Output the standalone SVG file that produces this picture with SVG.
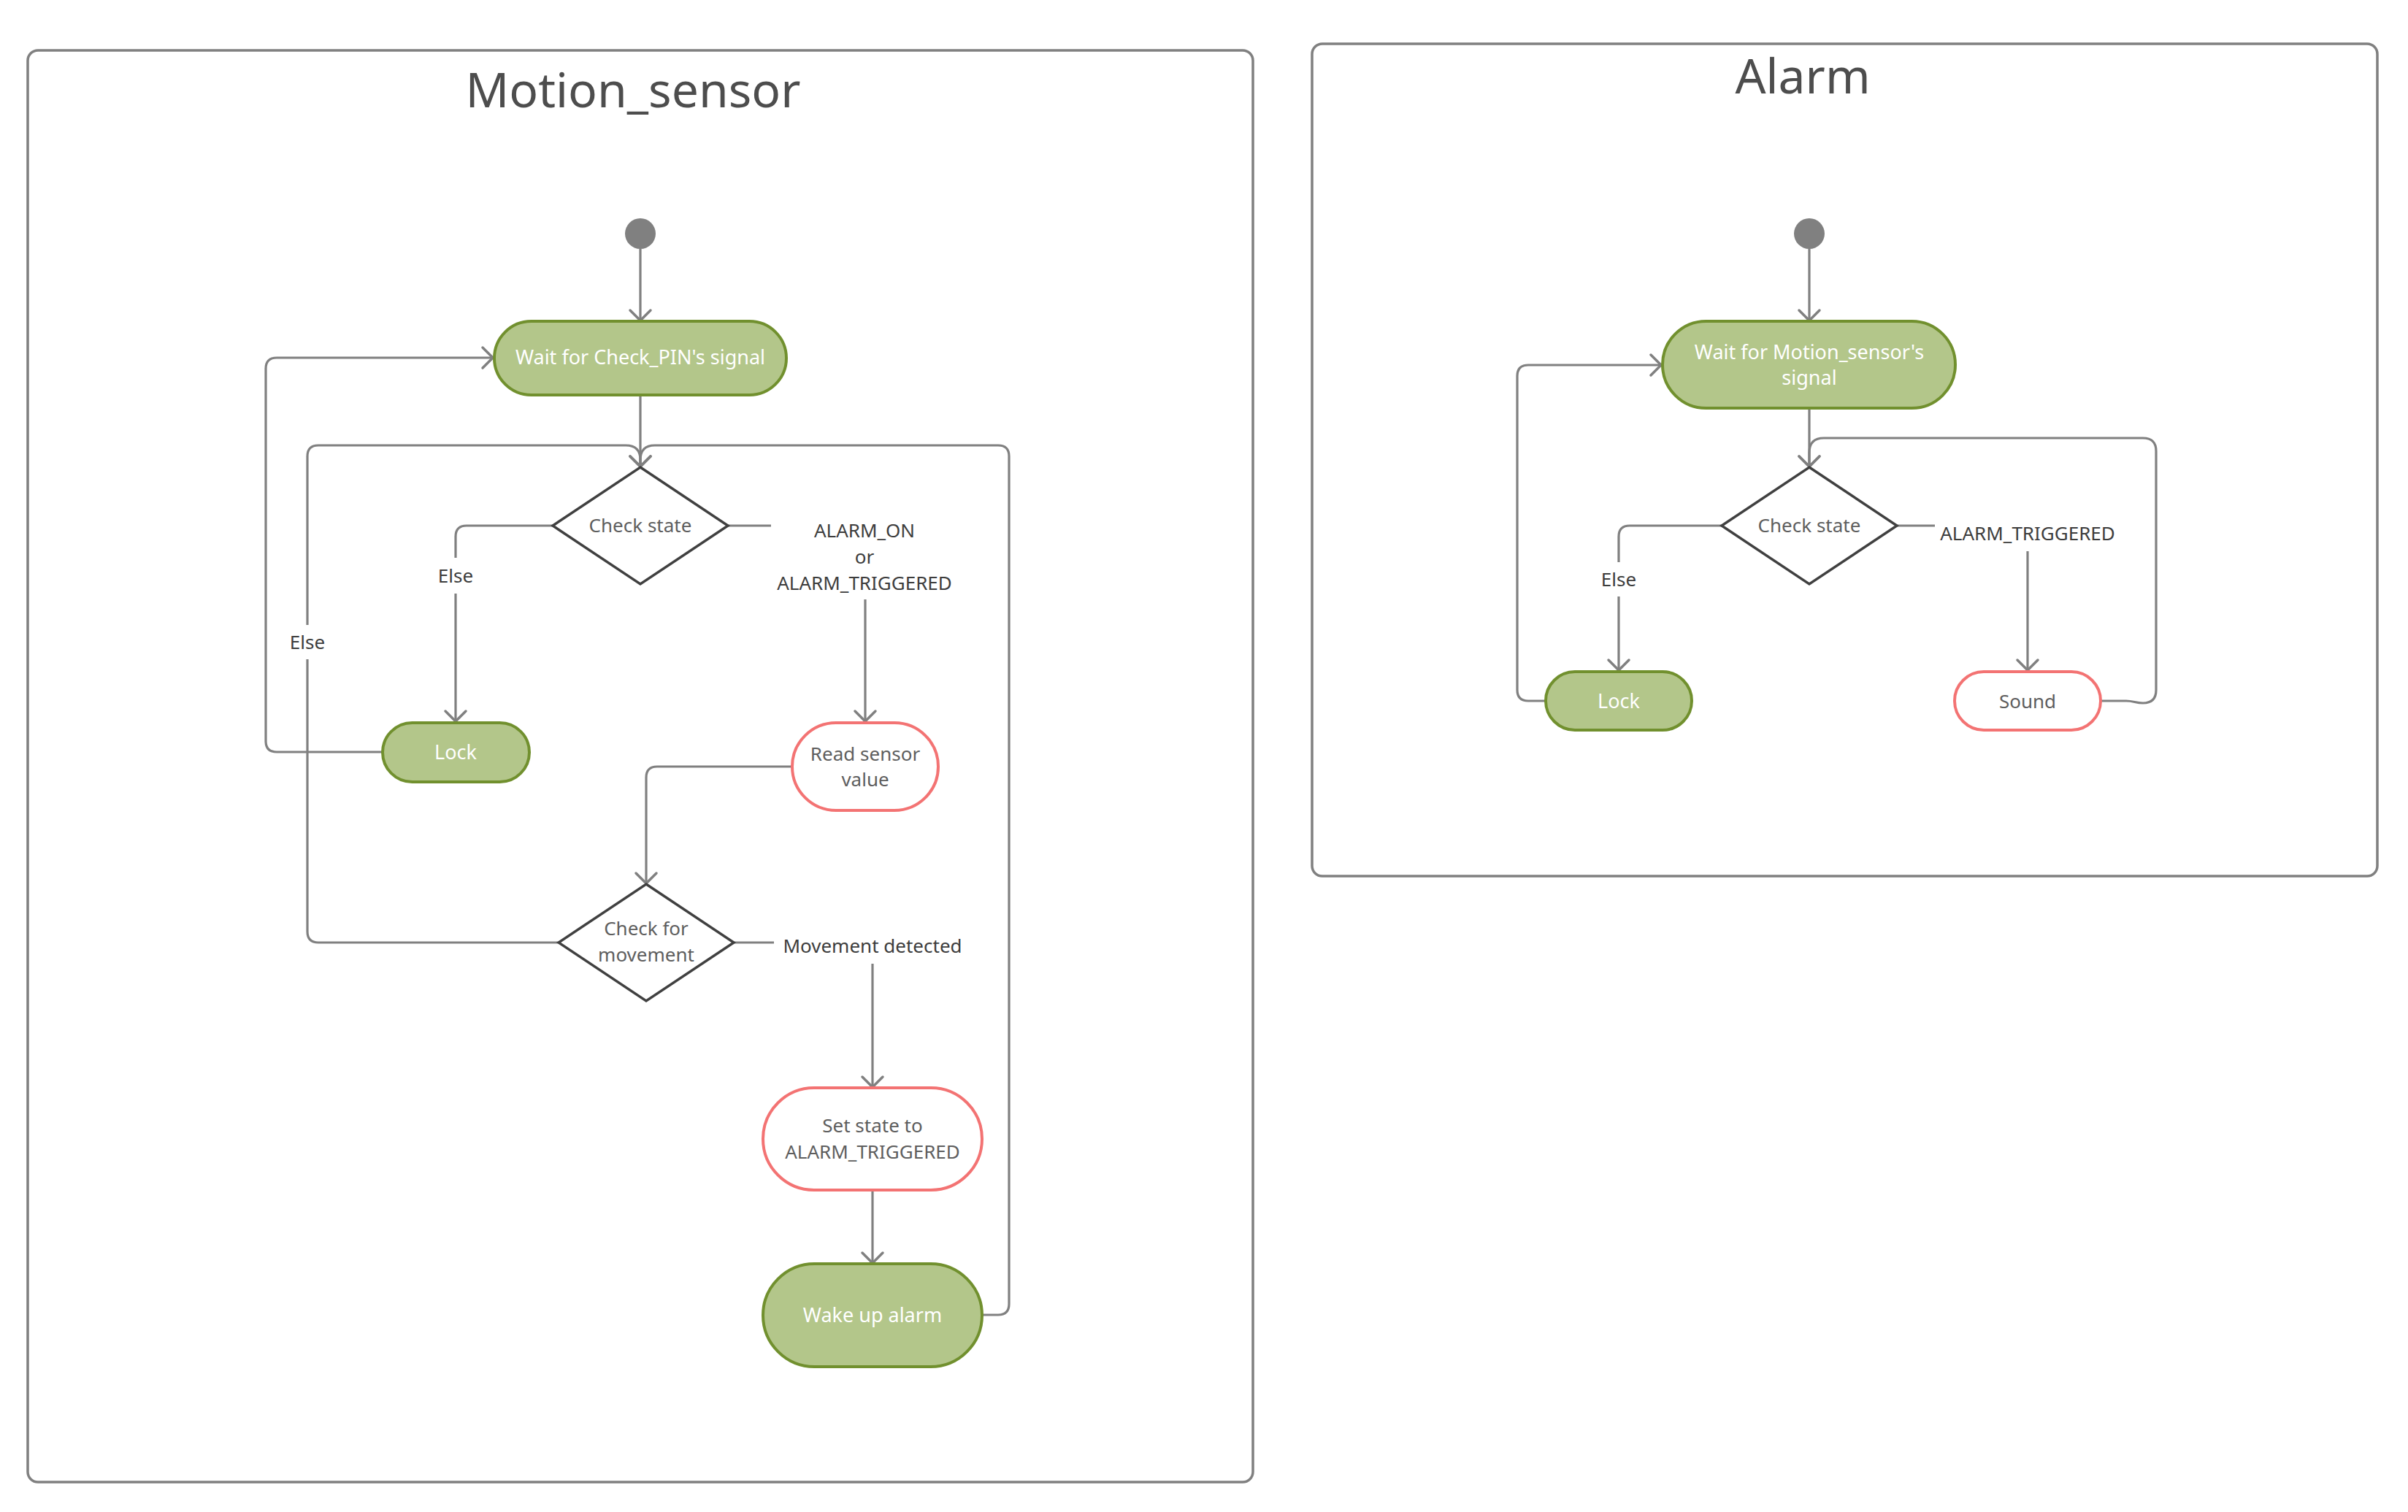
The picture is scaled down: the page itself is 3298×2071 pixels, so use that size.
<svg xmlns="http://www.w3.org/2000/svg" width="3298" height="2071" viewBox="0 0 3298 2071">
<style>
.frame{fill:none;stroke:#808080;stroke-width:3.5}
.conn{fill:none;stroke:#808080;stroke-width:3.2}
.arr{marker-end:url(#ah)}
.green{fill:#b3c68a;stroke:#71902e;stroke-width:4}
.red{fill:#ffffff;stroke:#f37373;stroke-width:4}
.dia{fill:#ffffff;stroke:#404040;stroke-width:3.5;stroke-linejoin:miter}
.start{fill:#808080}
.bg{fill:#ffffff}
text{font-family:"Noto Sans","Open Sans","DejaVu Sans",sans-serif;text-anchor:middle}
.title{font-size:66px;fill:#4d4d4d}
.tw{font-size:27px;fill:#ffffff}
.tg{font-size:26px;fill:#5e5e5e}
.lbl{font-size:26px;fill:#3d3d3d}
</style>
<defs>
<marker id="ah" viewBox="-18 -18 36 36" markerWidth="36" markerHeight="36" markerUnits="userSpaceOnUse" refX="0" refY="0" orient="auto">
<path d="M-14,-14 L0,0 L-14,14" fill="none" stroke="#808080" stroke-width="3.5" stroke-linecap="round" stroke-linejoin="round"/>
</marker>
</defs>
<rect width="3298" height="2071" fill="#ffffff"/>

<g id="frame-motion-sensor">
<rect class="frame" x="38" y="69" width="1678" height="1961" rx="14"/>
<text class="title" x="867" y="147">Motion_sensor</text>
</g>
<g id="frame-alarm">
<rect class="frame" x="1797" y="60" width="1459" height="1140" rx="14"/>
<text class="title" x="2469" y="128">Alarm</text>
</g>

<g id="connectors">
<path class="conn arr" d="M877,341 V439"/>
<path class="conn arr" d="M877,541 V639"/>
<path class="conn arr" d="M757,720 H639 Q624,720 624,735 V988"/>
<path class="conn arr" d="M997,720 H1170 Q1185,720 1185,735 V988"/>
<path class="conn arr" d="M524,1030 H379 Q364,1030 364,1015 V505 Q364,490 379,490 H675"/>
<path class="conn arr" d="M1084,1050 H900 Q885,1050 885,1065 V1210"/>
<path class="conn arr" d="M765,1291 H436 Q421,1291 421,1276 V625 Q421,610 436,610 H857 Q877,610 877,630 V639"/>
<path class="conn arr" d="M1005,1291 H1180 Q1195,1291 1195,1306 V1489"/>
<path class="conn arr" d="M1195,1630 V1730"/>
<path class="conn arr" d="M1345,1801 H1367 Q1382,1801 1382,1786 V625 Q1382,610 1367,610 H897 Q877,610 877,630 V639"/>

<path class="conn arr" d="M2478,341 V439"/>
<path class="conn arr" d="M2478,559 V639"/>
<path class="conn arr" d="M2358,720 H2232 Q2217,720 2217,735 V918"/>
<path class="conn arr" d="M2598,720 H2762 Q2777,720 2777,735 V918"/>
<path class="conn arr" d="M2117,960 H2093 Q2078,960 2078,945 V515 Q2078,500 2093,500 H2275"/>
<path class="conn arr" d="M2877,960 H2912 C2922,960 2925,963 2935,963 Q2953,963 2953,945 V618 Q2953,600 2935,600 H2498 Q2478,600 2478,620 V639"/>

<g id="edge-labels">
<rect class="bg" x="598" y="764" width="52" height="49"/>
<text class="lbl" x="624" y="798">Else</text>
<rect class="bg" x="395" y="856" width="52" height="47"/>
<text class="lbl" x="421" y="889">Else</text>
<rect class="bg" x="1056" y="710" width="258" height="111"/>
<text class="lbl" x="1184" y="736">ALARM_ON</text>
<text class="lbl" x="1184" y="772">or</text>
<text class="lbl" x="1184" y="808">ALARM_TRIGGERED</text>
<rect class="bg" x="1060" y="1274" width="272" height="46"/>
<text class="lbl" x="1195" y="1305">Movement detected</text>
<rect class="bg" x="2191" y="770" width="52" height="47"/>
<text class="lbl" x="2217" y="803">Else</text>
<rect class="bg" x="2650" y="708" width="255" height="47"/>
<text class="lbl" x="2777" y="740">ALARM_TRIGGERED</text>
</g>
</g>

<g id="start-motion"><circle class="start" cx="877" cy="320" r="21"/></g>
<g id="wait-checkpin">
<rect class="green" x="677" y="440" width="400" height="101" rx="50.5"/>
<text class="tw" x="877" y="499">Wait for Check_PIN's signal</text>
</g>
<g id="check-state-motion">
<polygon class="dia" points="877,640 997,720 877,800 757,720"/>
<text class="tg" x="877" y="729">Check state</text>
</g>
<g id="lock-motion">
<rect class="green" x="524" y="990" width="201" height="81" rx="40.5"/>
<text class="tw" x="624" y="1040">Lock</text>
</g>
<g id="read-sensor">
<rect class="red" x="1085" y="990" width="200" height="120" rx="60"/>
<text class="tg" x="1185" y="1042">Read sensor</text>
<text class="tg" x="1185" y="1077">value</text>
</g>
<g id="check-movement">
<polygon class="dia" points="885,1211 1005,1291 885,1371 765,1291"/>
<text class="tg" x="885" y="1281">Check for</text>
<text class="tg" x="885" y="1317">movement</text>
</g>
<g id="set-state">
<rect class="red" x="1045" y="1490" width="300" height="140" rx="70"/>
<text class="tg" x="1195" y="1551">Set state to</text>
<text class="tg" x="1195" y="1587">ALARM_TRIGGERED</text>
</g>
<g id="wake-up">
<rect class="green" x="1045" y="1731" width="300" height="141" rx="70.5"/>
<text class="tw" x="1195" y="1811">Wake up alarm</text>
</g>

<g id="start-alarm"><circle class="start" cx="2478" cy="320" r="21"/></g>
<g id="wait-motion">
<rect class="green" x="2277" y="440" width="401" height="119" rx="59.5"/>
<text class="tw" x="2478" y="492">Wait for Motion_sensor's</text>
<text class="tw" x="2478" y="527">signal</text>
</g>
<g id="check-state-alarm">
<polygon class="dia" points="2478,640 2598,720 2478,800 2358,720"/>
<text class="tg" x="2478" y="729">Check state</text>
</g>
<g id="lock-alarm">
<rect class="green" x="2117" y="920" width="200" height="80" rx="40"/>
<text class="tw" x="2217" y="970">Lock</text>
</g>
<g id="sound">
<rect class="red" x="2677" y="920" width="200" height="80" rx="40"/>
<text class="tg" x="2777" y="970">Sound</text>
</g>
</svg>
